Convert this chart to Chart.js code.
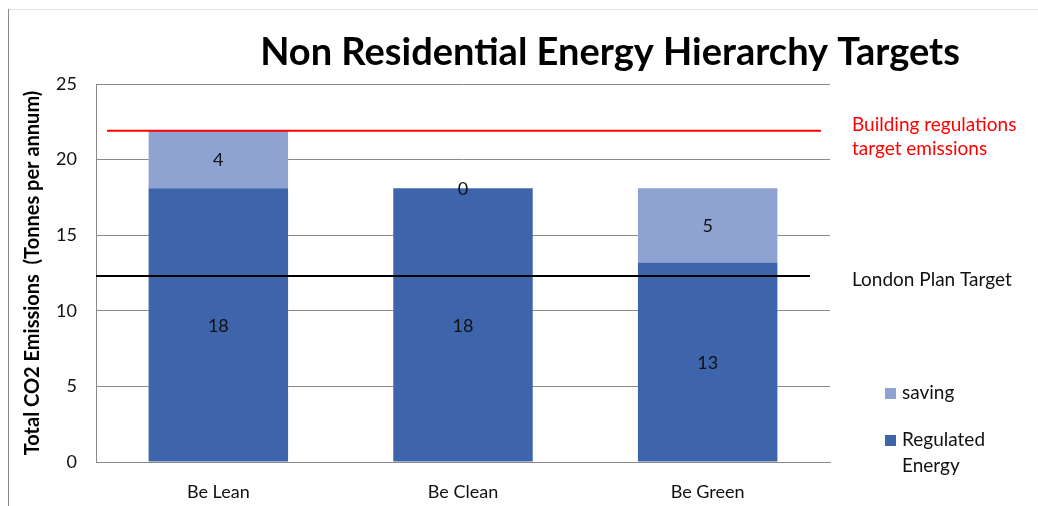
<!DOCTYPE html>
<html>
<head>
<meta charset="utf-8">
<script src="https://cdn.jsdelivr.net/npm/chart.js@4"></script>
<style>
  html, body { margin: 0; padding: 0; background: #fff; }
  #wrap { position: relative; width: 1038px; height: 506px; }
</style>
</head>
<body>
<div id="wrap"><canvas id="energyChart"></canvas></div>
<script>
const categories = ['Be Lean', 'Be Clean', 'Be Green'];
const regulatedEnergy = [18.1, 18.1, 13.2];
const saving = [3.8, 0, 4.9];
const yTicks = [0, 5, 10, 15, 20, 25];
const buildingRegsTarget = 21.9;
const londonPlanTarget = 12.3;

const FONT = 'Lato, "Open Sans", sans-serif';

// labels, target lines, notes, legend and title drawn on top
const overlay = {
  id: 'overlay',
  beforeDraw(chart) {
    const ctx = chart.ctx;
    ctx.save();
    ctx.lineWidth = 1;
    ctx.strokeStyle = '#e2e2e2';
    ctx.beginPath();
    ctx.moveTo(8, 9.5);
    ctx.lineTo(chart.width, 9.5);
    ctx.stroke();
    ctx.strokeStyle = '#8a8a8a';
    ctx.beginPath();
    ctx.moveTo(8.5, 9);
    ctx.lineTo(8.5, chart.height);
    ctx.stroke();
    ctx.restore();
  },
  afterDatasetsDraw(chart) {
    const ctx = chart.ctx;
    const y = chart.scales.y;
    const area = chart.chartArea;
    ctx.save();

    // value labels in the middle of each segment
    ctx.font = '18px ' + FONT;
    ctx.fillStyle = '#111';
    ctx.textAlign = 'center';
    ctx.textBaseline = 'middle';
    chart.data.datasets.forEach((ds, i) => {
      chart.getDatasetMeta(i).data.forEach((bar, j) => {
        const mid = (bar.y + bar.base) / 2;
        ctx.fillText(Math.round(ds.data[j]), bar.x, mid + 1);
      });
    });

    // target lines
    const ry = y.getPixelForValue(buildingRegsTarget);
    ctx.lineWidth = 2;
    ctx.strokeStyle = '#ff0000';
    ctx.beginPath();
    ctx.moveTo(area.left + 11, ry);
    ctx.lineTo(area.right - 9, ry);
    ctx.stroke();

    const by = y.getPixelForValue(londonPlanTarget);
    ctx.strokeStyle = '#000';
    ctx.beginPath();
    ctx.moveTo(area.left, by);
    ctx.lineTo(area.right - 20, by);
    ctx.stroke();

    // notes on the right
    const nx = area.right + 22;
    ctx.textAlign = 'left';
    ctx.font = '19px ' + FONT;
    ctx.fillStyle = '#ff0000';
    ctx.fillText('Building regulations', nx, ry - 6);
    ctx.fillText('target emissions', nx, ry + 18);
    ctx.fillStyle = '#111';
    ctx.fillText('London Plan Target', nx, by + 4);

    // legend, reversed order
    const lx = area.right + 55;
    const legendRows = [
      { ds: 1, lines: ['saving'], top: 393 },
      { ds: 0, lines: ['Regulated', 'Energy'], top: 440 }
    ];
    legendRows.forEach(row => {
      ctx.fillStyle = chart.data.datasets[row.ds].backgroundColor;
      ctx.fillRect(lx, row.top - 5, 11, 11);
      ctx.fillStyle = '#111';
      row.lines.forEach((t, k) => ctx.fillText(t, lx + 17, row.top + k * 26));
    });

    // title
    ctx.font = 'bold 38px ' + FONT;
    ctx.fillStyle = '#000';
    ctx.textAlign = 'center';
    ctx.fillText('Non Residential Energy Hierarchy Targets', 610, 53);
    ctx.restore();
  }
};

const ctx = document.getElementById('energyChart').getContext('2d');

new Chart(ctx, {
  type: 'bar',
  data: {
    labels: categories,
    datasets: [
      {
        label: 'Regulated Energy',
        data: regulatedEnergy,
        backgroundColor: '#3E64AB',
        categoryPercentage: 1,
        barPercentage: 0.57
      },
      {
        label: 'saving',
        data: saving,
        backgroundColor: '#8FA3D3',
        categoryPercentage: 1,
        barPercentage: 0.57
      }
    ]
  },
  options: {
    responsive: true,
    maintainAspectRatio: false,
    animation: false,
    layout: {
      padding: { top: 84, right: 208, left: 0, bottom: 0 }
    },
    plugins: {
      legend: { display: false },
      tooltip: { enabled: false }
    },
    scales: {
      x: {
        stacked: true,
        grid: { display: false, drawTicks: false },
        border: { color: '#8a8a8a' },
        ticks: {
          color: '#111',
          padding: 19,
          font: { family: FONT, size: 18 }
        },
        afterFit: (scale) => { scale.height = 44; }
      },
      y: {
        stacked: true,
        min: 0,
        max: 25,
        afterBuildTicks: (scale) => { scale.ticks = yTicks.map(v => ({ value: v })); },
        grid: { color: '#8a8a8a', drawTicks: false },
        border: { color: '#8a8a8a' },
        ticks: {
          color: '#111',
          padding: 19,
          font: { family: FONT, size: 18 }
        },
        title: {
          display: true,
          text: 'Total CO2 Emissions  (Tonnes per annum)',
          color: '#000',
          padding: { top: 21, bottom: 0 },
          font: { family: FONT, size: 20, weight: 'bold' }
        },
        afterFit: (scale) => { scale.width = 96; }
      }
    }
  },
  plugins: [overlay]
});
</script>
</body>
</html>
